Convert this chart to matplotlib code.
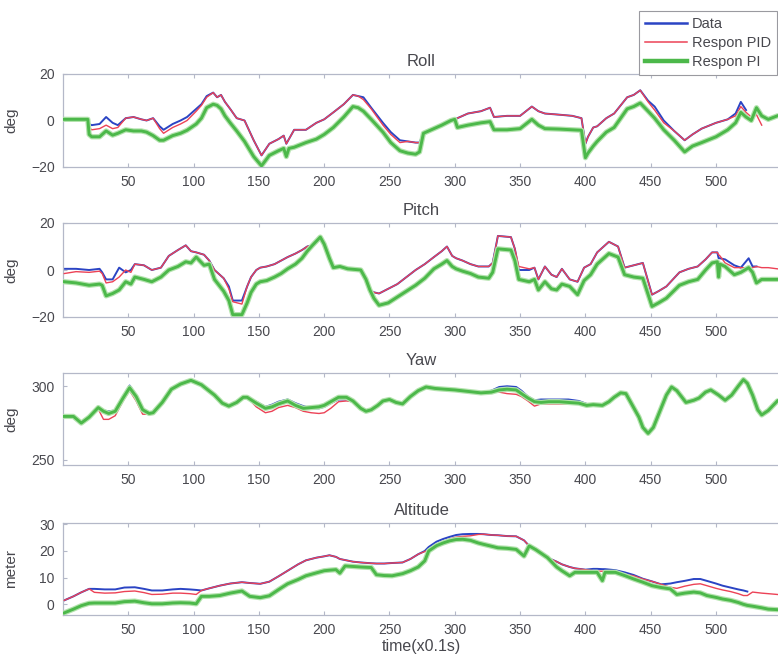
import matplotlib
matplotlib.use("Agg")
import matplotlib.pyplot as plt
from matplotlib.lines import Line2D

plt.rcParams['font.family'] = ['Liberation Sans', 'DejaVu Sans']

# ---------------- data ----------------
roll_t = [1, 19, 20, 22, 28, 33, 38, 42, 48, 54, 60, 64, 69, 74, 77, 84, 90, 95, 102, 106,
          110, 115, 118, 121, 124, 128, 133, 139, 146, 152, 158, 165, 169, 171, 173, 177, 186, 194, 200, 207,
          215, 222, 226, 230, 236, 245, 251, 258, 264, 270, 273, 276, 282, 290, 297, 300, 302, 310, 320, 327,
          330, 340, 350, 359, 364, 369, 380, 390, 397, 400, 402, 406, 409, 416, 422, 432, 437, 442, 448, 453,
          460, 468, 476, 482, 489, 500, 509, 515, 519, 523, 527, 531, 535, 540, 547]
roll_pi = [0.5, 0.5, -6, -7, -7, -4.5, -6.3, -5.5, -4, -4.5,
           -4.5, -5, -6.5, -8.5, -8.5, -6.5, -5.5, -4.2, -1.5, 1,
           5.5, 7, 6.5, 5, 2, -1, -4.5, -9, -15.5, -19.5,
           -15, -13, -12, -15.5, -12, -11.5, -9.5, -8, -6, -3,
           1.5, 6, 5.5, 4, 0.5, -5, -9.5, -13, -14, -14.5,
           -13.5, -5.5, -4, -2, 0, 0.5, -3, -2, -1, -0.5,
           -4, -4, -3.5, 0.5, -2, -3.5, -3.7, -4, -4.2, -16,
           -14, -11, -9, -5, -3, 5, 6, 7.5, 4, 1,
           -4, -8.5, -13.5, -11, -9.5, -7, -4, -1, 3.5, 1.5,
           0, 5.5, 2, 0.5, 2]
roll_pid = [0.5, 0.5, -3, -4, -3.5, -2, -3.5, -3, 1, 1.5,
            0.5, 0, 1, -3.5, -5.5, -3, -1.5, 0, 4, 6.5,
            10, 12, 10, 11, 8, 5, 1, 0, -8.5, -15,
            -10, -8, -6.5, -10, -8, -4, -4, -1, 0.5, 3.5,
            7, 11, 10.5, 9, 5, -2, -6, -9.5, -9, -9.5,
            -9.5, -5.5, -4, -2, 0, 0.5, 1, 3, 4, 5.5,
            1.5, 2, 2, 6, 4, 3, 2.5, 2, 1, -10,
            -7, -3, -2.5, 1, 3, 10, 11, 13, 8, 4.5,
            -1, -4.5, -8.5, -6, -3.5, -1, 0.5, 2, 6, 3.5,
            1.5, 2.5, -2]
roll_data = [0.5, 0.5, -1.5, -2, -1.5, 1.5, -1, -2, 1, 1.5,
             0.5, 0, 1, -2.5, -4, -1.5, 0, 1.5, 5, 7,
             10.5, 12, 10, 11, 8, 5, 1, 0, -8.5, -15,
             -10, -8, -6.5, -10, -8, -4, -4, -1, 0.5, 3.5,
             7, 11, 10.5, 10, 5.5, -1, -5, -8.5, -9, -9.5,
             -9.5, -5.5, -4, -2, 0, 0.5, 1, 3, 4, 5.5,
             1.5, 2, 2, 6, 4, 3, 2.5, 2, 1, -10,
             -7, -3, -2.5, 1, 3, 10, 11, 13, 8.5, 6,
             0, -4.5, -8.5, -6, -3.5, -1, 0.5, 3, 8, 4.5]

pitch_t = [1, 10, 20, 28, 30, 33, 38, 43, 48, 52,
           55, 62, 68, 75, 81, 88, 94, 98, 102, 108,
           112, 116, 123, 127, 130, 137, 141, 144, 148, 151,
           156, 162, 167, 172, 178, 183, 187, 191, 197, 200,
           204, 207, 212, 218, 228, 232, 235, 238, 242, 249,
           256, 263, 270, 277, 284, 290, 294, 298, 301, 306,
           312, 318, 326, 329, 333, 343, 346, 349, 357, 361,
           364, 369, 374, 378, 382, 388, 394, 399, 404, 409,
           418, 425, 430, 437, 444, 451, 456, 462, 472, 479,
           486, 492, 497, 501, 502, 503, 507, 514, 519, 525,
           528, 531, 535, 540, 547]
pitch_pi = [-5, -5.5, -6.5, -6, -6.5, -11, -10, -8.5, -5, -6,
            -3, -4, -5, -3, 0, 1.5, 3.5, 3, 5.5, 2,
            2.5, -4, -9, -13, -19, -19, -14, -9.5, -6, -5,
            -4.5, -3, -1.5, 0.5, 2.5, 5, 8, 10.5, 14, 11,
            5, 1, 1.5, 0.5, 0, -4, -8.5, -12, -15, -14,
            -11.5, -9, -6.5, -3.5, 0.5, 2.5, 4, 1.5, 0.5, -0.5,
            -1.5, -3, -3.5, -1, 9, 8.5, 4, -4, -5, -4,
            -8.5, -5, -8, -8.5, -6, -7, -10.5, -4.5, -2, 2.5,
            7, 5.5, -2, -3, -3.5, -15.5, -14, -12, -6.5, -5,
            -4, 0, 3, 3.5, -3, 2.5, 1.5, -2, -1, 1,
            -1, -5.5, -4, -4, -4]
pitch_pid = [-1.5, -0.7, -1, -0.5, -1.5, -5.5, -5, -3, 0, -1,
             2.5, 2, 0, 1, 6, 8.5, 10.5, 8, 7.5, 6.5,
             4, 0, -3.5, -8, -13.5, -14.5, -7, -3, 0, 1,
             1.5, 2.5, 4, 5.5, 7, 8.5, 10, 10.5, 14, 11,
             5, 1, 1.5, 0.5, 0, -4, -8.5, -9.5, -10, -8,
             -6, -3, 0, 2.5, 5.5, 8, 10, 6, 5, 4,
             2.5, 1.5, 1.5, 3, 14.5, 14, 9, 1.5, 0.5, 1,
             -4, 1.5, -2, -3, 0.5, -4, -5, 1, 2.5, 7.5,
             12, 10, 1, 2, 3, -10.5, -9, -7, -1, 0.5,
             1.5, 4.5, 7.5, 7.5, 6.5, 6, 3, 1, 1, 1,
             1, 1.5, 1, 1, 0.5]
pitch_data = [0.5, 0.5, 0, 0.5, -1, -4, -4, 1, -1, 0,
              2.5, 2, 0, 1, 6, 8.5, 10.5, 8, 7.5, 6.5,
              4, 0, -3.5, -7, -13, -13, -7, -3, 0, 1,
              1.5, 2.5, 4, 5.5, 7, 8.5, 10, 10.5, 14, 11,
              5, 1, 1.5, 0.5, 0, -4, -8.5, -9.5, -10, -8,
              -6, -3, 0, 2.5, 5.5, 8, 10, 6, 5, 4,
              2.5, 1.5, 1.5, 3, 14.5, 14, 9, 0, 0, 1,
              -4, 1.5, -2, -3, 0.5, -4, -5, 1, 2.5, 7.5,
              12, 10, 1, 2, 3, -10.5, -9, -7, -1, 0.5,
              1.5, 4.5, 7.5, 7.5, 5, 5, 4.5, 2, 1, 5,
              1.5, 1.5]

yaw_t = [1, 8, 14, 20, 27, 31, 35, 40, 46, 51,
         56, 61, 66, 69, 76, 83, 90, 98, 106, 116,
         122, 127, 133, 138, 141, 148, 155, 160, 165, 172,
         178, 184, 190, 196, 200, 205, 211, 217, 222, 228,
         232, 236, 241, 245, 250, 255, 260, 266, 272, 278,
         285, 292, 300, 310, 320, 328, 334, 340, 347, 351,
         356, 361, 366, 372, 380, 387, 395, 401, 406, 413,
         418, 422, 427, 431, 436, 441, 444, 448, 452, 457,
         462, 466, 470, 477, 483, 487, 492, 496, 502, 507,
         512, 517, 521, 524, 528, 532, 535, 540, 547]
yaw_pi = [279.5, 279.5, 275, 279, 285.5, 283, 281.5, 283, 292, 299,
          293, 284, 281.5, 282, 289, 298, 301.5, 304, 301, 294,
          288.5, 286.5, 289, 292.5, 292.5, 288.5, 285, 286, 288, 290,
          287, 285, 285.5, 286, 287, 289.5, 292.5, 292.5, 290, 285,
          283, 284, 287, 290, 291, 289, 288, 293, 297, 299.5,
          298.5, 298, 297.5, 296.5, 295.5, 296, 297.5, 298, 297.5, 295,
          292, 289.5, 289, 289.5, 289.5, 289, 288.5, 287, 287.5, 287,
          289.5, 292.5, 295.5, 295, 287, 279, 272, 268, 272, 283,
          294, 299.5, 297, 289, 290.5, 292, 296, 297.5, 294, 290.5,
          294, 300, 304.5, 302, 294, 284, 280.5, 283.5, 290]
yaw_pid = [279.5, 279.5, 275, 279, 284.5, 277.5, 277.5, 280, 290, 297,
           290, 281, 281, 282, 289, 298, 301.5, 304, 301, 294,
           288.5, 286.5, 289, 292.5, 292.5, 286, 282, 283, 285.5, 287,
           285.5, 283, 282, 281.5, 282, 285, 289.5, 290, 289.5, 285,
           283, 284, 287, 290, 291, 289, 288, 293, 297, 299.5,
           298.5, 298, 297.5, 296.5, 295.5, 296, 296, 295, 294.5, 293,
           290, 286.5, 288, 288, 288, 288, 288, 287, 287.5, 287,
           289.5, 292.5, 295.5, 295, 287, 279, 272, 268, 272, 283,
           294, 299.5, 297, 289, 290.5, 292, 296, 297.5, 294, 290.5,
           294, 300, 304.5, 302, 294, 284, 280.5, 283.5, 290]
yaw_data = [279.5, 279.5, 275, 279, 286, 283.5, 283, 283.5, 293, 300.5,
            294, 284, 281.5, 282, 289, 298, 301.5, 304, 301, 294,
            288.5, 286.5, 289, 292.5, 292.5, 289.5, 286, 287.5, 289.5, 291,
            288.5, 286.5, 285, 285, 286, 288.5, 291, 291, 289.5, 285,
            283, 284, 287, 290, 291, 289, 288, 293, 297, 299.5,
            298.5, 298, 297.5, 296.5, 295.5, 297, 299.5, 300, 299.5, 297,
            293, 290.5, 291, 291, 291, 291, 290, 288, 287.5, 287,
            289.5, 292.5, 295.5, 295, 287, 279, 272, 268, 272, 283,
            294, 299.5, 297, 289, 290.5, 292, 296, 297.5, 294, 290.5,
            294, 300, 304.5, 302, 294, 284, 280.5, 283.5, 290]

alt_t = [1, 8, 14, 20, 24, 32, 40, 47, 55, 62,
         68, 76, 84, 90, 97, 102, 106, 112, 120, 128,
         137, 143, 151, 158, 165, 172, 180, 186, 194, 200,
         204, 209, 212, 216, 222, 228, 236, 240, 246, 252,
         260, 266, 272, 277, 280, 286, 291, 296, 301, 306,
         312, 318, 322, 328, 333, 340, 347, 353, 357, 362,
         371, 378, 382, 388, 392, 400, 406, 409, 413, 415,
         423, 430, 437, 444, 451, 458, 465, 470, 476, 483,
         488, 493, 500, 505, 511, 517, 521, 524, 528, 535,
         540, 547]
alt_pi = [-3.2, -1.8, -0.5, 0.4, 0.5, 0.5, 0.5, 1, 1.2, 0.6,
          0.2, 0.2, 0.5, 0.6, 0.5, 0.2, 3, 3, 3.3, 4.2,
          5, 3, 2.5, 3.2, 5.5, 7.7, 9.3, 10.7, 11.8, 12.6,
          12.8, 13, 11.7, 14.4, 14.2, 14, 13.8, 11.1, 10.8, 10.7,
          11.5, 12.6, 14, 16.3, 20, 22, 23, 23.8, 24.3, 24.4,
          24, 23, 22.5, 21.8, 21.2, 21, 20.6, 18.1, 21.9, 20.5,
          17.5, 14, 12.6, 10.7, 12, 12, 12, 12, 8.9, 12,
          12, 10.8, 9.5, 8.3, 7, 6.3, 5.8, 3.7, 4.2, 4.6,
          4.3, 3.3, 2.6, 2, 1.5, 0.7, 0, -0.4, -0.7, -1.3,
          -1.8, -2]
alt_pid = [1.5, 3, 4.5, 5.8, 4.5, 4.2, 4.3, 4.8, 5, 4.4,
           3.7, 3.8, 4.2, 4.2, 4, 3.7, 5.2, 6, 7, 7.8,
           8.3, 8, 7.7, 8.5, 10.5, 12.6, 15, 16.5, 17.5, 18,
           18.4, 17.8, 17, 16.6, 16, 15.7, 15.4, 15.3, 15.3, 15.5,
           15.7, 17, 18.8, 19.8, 20.5, 22.5, 23.5, 24.5, 25.2, 25.5,
           25.7, 26.2, 26.3, 26, 25.9, 25.6, 25.5, 24, 21.9, 20.5,
           17.5, 16, 15, 14, 13.5, 13, 12.6, 12.5, 12.4, 12.4,
           12, 11.3, 10.7, 9.5, 8.6, 7.5, 6.4, 6, 6.8, 7.5,
           7.7, 7, 6, 5.4, 4.8, 4, 3.3, 3.3, 4.6, 4.2,
           4, 3.7]
alt_data = [1.5, 3, 4.5, 5.8, 5.8, 5.6, 5.6, 6.3, 6.4, 5.8,
            5.2, 5.2, 5.6, 5.8, 5.6, 5.4, 5.2, 6, 7, 7.8,
            8.3, 8, 7.7, 8.5, 10.5, 12.6, 15, 16.5, 17.5, 18,
            18.4, 17.8, 17, 16.6, 16, 15.7, 15.4, 15.3, 15.3, 15.5,
            15.7, 17, 18.8, 20, 21.5, 23.5, 24.5, 25.3, 26, 26.3,
            26.4, 26.4, 26.3, 26, 25.9, 25.6, 25.5, 24, 21.9, 20.5,
            17.5, 16, 15, 14, 13.5, 13, 13.3, 13.3, 13.2, 13.2,
            12.8, 12, 11, 9.6, 8.6, 7.5, 7.8, 8.3, 8.8, 9.5,
            9.5, 8.8, 7.8, 7, 6.3, 5.6, 5.2, 4.8]

titles = ["Roll", "Pitch", "Yaw", "Altitude"]
ylabels = ["deg", "deg", "deg", "meter"]
series_names = ["Data", "Respon PID", "Respon PI"]
xticks = [50, 100, 150, 200, 250, 300, 350, 400, 450, 500]

# ---------------- style ----------------
C_DATA = "#2b44c4"
C_PID = "#ec4256"
C_PI = "#4cb84a"
C_PI_HALO = "#b3e3ad"
TXT = "#48484e"
SPINE = "#b4b8c8"

W, H = 778, 657
fig = plt.figure(figsize=(W / 100, H / 100), dpi=100)
fig.patch.set_facecolor("white")

boxes = [(74, 167), (223, 317), (373, 465), (523, 615)]
left_px, right_px = 63, 780
ylims = [(-20, 20), (-20, 20), (246.5, 309), (-4, 30.5)]
yticks = [[-20, 0, 20], [-20, 0, 20], [250, 300], [0, 10, 20, 30]]

panels = [
    (roll_t, roll_data, roll_pid, roll_pi),
    (pitch_t, pitch_data, pitch_pid, pitch_pi),
    (yaw_t, yaw_data, yaw_pid, yaw_pi),
    (alt_t, alt_data, alt_pid, alt_pi),
]

axes = []
for i, (top, bot) in enumerate(boxes):
    ax = fig.add_axes([left_px / W, 1 - bot / H, (right_px - left_px) / W, (bot - top) / H])
    t, d, pid, pi = panels[i]
    ax.plot(t[:len(d)], d, color=C_DATA, lw=1.4, zorder=2)
    ax.plot(t[:len(pid)], pid, color=C_PID, lw=1.0, zorder=3)
    ax.plot(t[:len(pi)], pi, color=C_PI_HALO, lw=3.8, zorder=4, solid_capstyle="round")
    ax.plot(t[:len(pi)], pi, color=C_PI, lw=2.1, zorder=5)
    ax.set_xlim(0, (right_px - left_px) / 1.306)
    ax.set_ylim(*ylims[i])
    ax.set_yticks(yticks[i])
    ax.set_xticks(xticks)
    ax.tick_params(direction="in", length=3, width=0.8, color=SPINE, labelcolor=TXT,
                   labelsize=10, top=True, right=False, pad=6)
    for s in ax.spines.values():
        s.set_color(SPINE)
        s.set_linewidth(0.9)
    ax.set_title(titles[i], fontsize=12, color=TXT, pad=6)
    ax.set_ylabel(ylabels[i], fontsize=11, color=TXT)
    ax.yaxis.set_label_coords(-0.062, 0.5)
    axes.append(ax)

axes[-1].set_xlabel("time(x0.1s)", fontsize=11.5, color=TXT, labelpad=1)

handles = [
    Line2D([], [], color=C_DATA, lw=1.8),
    Line2D([], [], color=C_PID, lw=1.1),
    Line2D([], [], color=C_PI, lw=3.2),
]
leg = fig.legend(handles, series_names, loc="upper left",
                 bbox_to_anchor=(639 / W, 1 - 11 / H), fontsize=10.5,
                 frameon=True, fancybox=False, framealpha=1,
                 handlelength=2.9, handletextpad=0.35, borderpad=0.4,
                 labelspacing=0.35, borderaxespad=0)
leg.get_frame().set_edgecolor("#9a9aa0")
leg.get_frame().set_linewidth(0.8)
for txt in leg.get_texts():
    txt.set_color(TXT)

fig.savefig("out.png", dpi=100, facecolor="white")
